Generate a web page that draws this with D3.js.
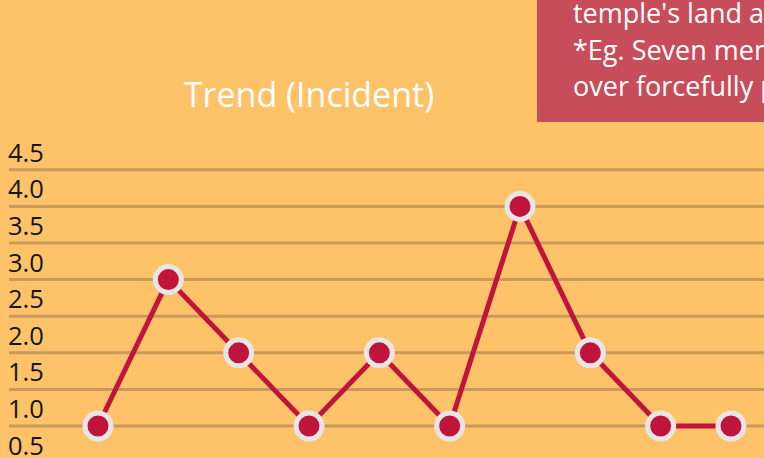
<!DOCTYPE html>
<html>
<head>
<meta charset="utf-8">
<script src="https://cdn.jsdelivr.net/npm/d3@7"></script>
<style>
  body { margin: 0; background: #FEC268; overflow: hidden; }
  svg { display: block; }
</style>
</head>
<body>
<div id="chart"></div>
<script>
// chart data
const categories = ["1", "2", "3", "4", "5", "6", "7", "8", "9", "10"];
const incidents = [1, 3, 2, 1, 2, 1, 4, 2, 1, 1];
const yTicks = [0.5, 1.0, 1.5, 2.0, 2.5, 3.0, 3.5, 4.0, 4.5];
const noteLines = ["temple's land and property", "*Eg. Seven members of the", "over forcefully possessed"];

const width = 764, height = 458;

const svg = d3.select("#chart")
  .append("svg")
  .attr("width", width)
  .attr("height", height);

svg.append("rect")
  .attr("width", width)
  .attr("height", height)
  .attr("fill", "#FEC268");

// scales
const x = d3.scalePoint()
  .domain(categories)
  .range([98, 731]);

const y = d3.scaleLinear()
  .domain([0.5, 4.5])
  .range([462.6, 169.8]);

// gridlines
svg.append("g")
  .selectAll("line")
  .data(yTicks)
  .join("line")
  .attr("x1", 9)
  .attr("x2", width)
  .attr("y1", d => y(d))
  .attr("y2", d => y(d))
  .attr("stroke", "#C99A5B")
  .attr("stroke-width", 3);

// tick labels sit just above their gridline
svg.append("g")
  .selectAll("text")
  .data(yTicks)
  .join("text")
  .attr("x", 8)
  .attr("y", d => y(d) - 8)
  .attr("font-family", "Open Sans, sans-serif")
  .attr("font-size", 25.5)
  .attr("fill", "#151515")
  .text(d => d.toFixed(1));

// title
svg.append("text")
  .attr("x", 309)
  .attr("y", 107)
  .attr("text-anchor", "middle")
  .attr("font-family", "Open Sans, sans-serif")
  .attr("font-size", 34)
  .attr("fill", "#ffffff")
  .text("Trend (Incident)");

// note box, clipped at the right edge
svg.append("rect")
  .attr("x", 537)
  .attr("y", -10)
  .attr("width", 240)
  .attr("height", 132)
  .attr("fill", "#C84D5B");

svg.append("g")
  .selectAll("text")
  .data(noteLines)
  .join("text")
  .attr("x", 573)
  .attr("y", (d, i) => 23 + i * 36.5)
  .attr("font-family", "Open Sans, sans-serif")
  .attr("font-size", 27)
  .attr("fill", "#ffffff")
  .text(d => d);

// line
const line = d3.line()
  .x((d, i) => x(categories[i]))
  .y(d => y(d));

svg.append("path")
  .datum(incidents)
  .attr("d", line)
  .attr("fill", "none")
  .attr("stroke", "#C0143C")
  .attr("stroke-width", 5);

// markers
svg.append("g")
  .selectAll("circle")
  .data(incidents)
  .join("circle")
  .attr("cx", (d, i) => x(categories[i]))
  .attr("cy", d => y(d))
  .attr("r", 13)
  .attr("fill", "#C0143C")
  .attr("stroke", "#E8E6E4")
  .attr("stroke-width", 5);
</script>
</body>
</html>
